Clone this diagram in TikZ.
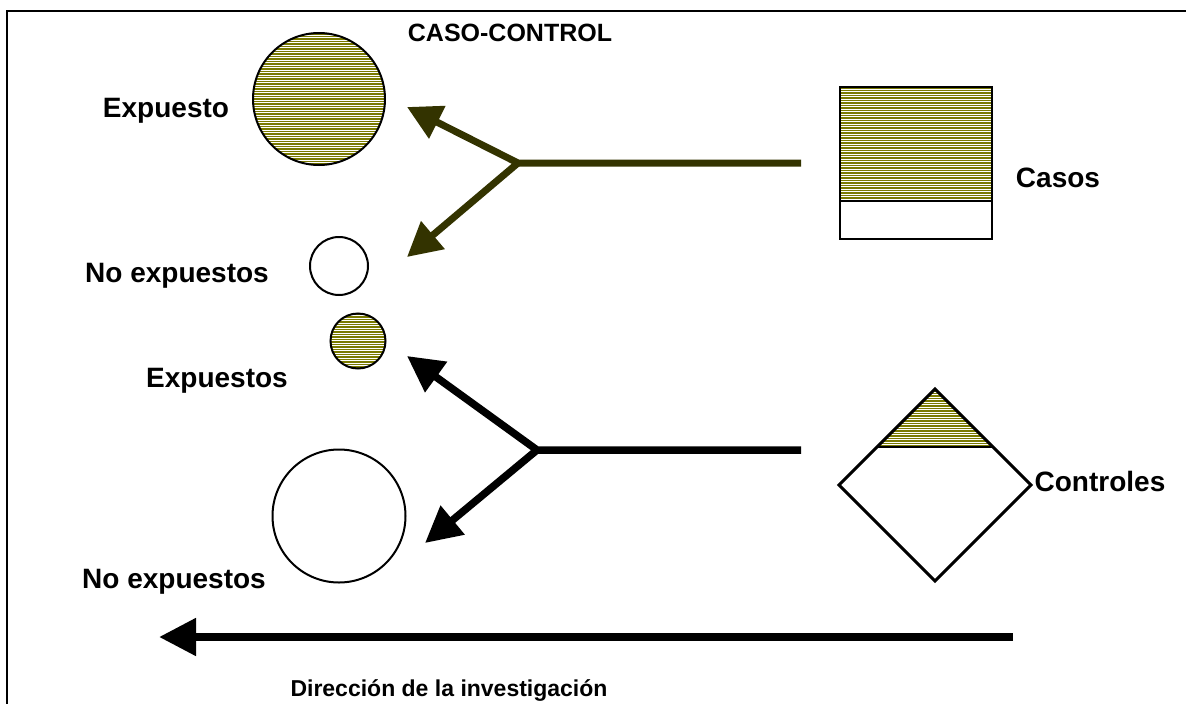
\documentclass[tikz,border=0pt]{standalone}
\usepackage{fontspec}
\setmainfont{Liberation Sans}
\usetikzlibrary{arrows.meta}
\definecolor{darkolive}{HTML}{333300}
\definecolor{stripe}{HTML}{7A7A00}
\tikzset{
  lbl/.style={font=\fontsize{28}{31}\selectfont\bfseries, inner sep=0pt},
  hatch/.style={path picture={\foreach \k in {0,...,80}{\draw[stripe,line width=1.2pt] ([yshift=-\k*2.5pt-1pt]path picture bounding box.north west) -- ([yshift=-\k*2.5pt-1pt]path picture bounding box.north east);}}},
  ball/.style={circle, draw=black, line width=2pt, inner sep=0pt},
  oarrow/.style={draw=darkolive, line width=7pt, -{Triangle[length=34pt,width=35pt]}},
  karrow/.style={draw=black, line width=7.5pt, -{Triangle[length=36pt,width=36pt]}},
}
\begin{document}
\begin{tikzpicture}[x=1pt,y=-1pt]
\useasboundingbox (0,0) rectangle (1186,704);
% frame
\coordinate (fbl) at (7,704);
\coordinate (ftl) at (7,11);
\coordinate (ftr) at (1186,11);
\draw[line width=2pt] (fbl) -- (ftl) -- (ftr);
% title
\node[font=\fontsize{25}{30}\selectfont\bfseries, inner sep=0pt] (title) at (510,33) {CASO-CONTROL};
% circles
\node[ball, hatch, minimum size=132pt] (c1) at (319,99) {};
\node[ball, minimum size=58pt] (c2) at (339,266) {};
\node[ball, hatch, minimum size=55pt] (c3) at (358,341) {};
\node[ball, minimum size=133pt] (c4) at (339,516) {};
% labels
\node[lbl] (l1) at (166,111) {Expuesto};
\node[lbl] (l2) at (177,276) {No expuestos};
\node[lbl] (l3) at (217,381) {Expuestos};
\node[lbl] (l4) at (174,582) {No expuestos};
\node[lbl] (l5) at (1058,178) {Casos};
\node[lbl] (l6) at (1100,481) {Controles};
\node[font=\fontsize{23}{27}\selectfont\bfseries, inner sep=0pt] (l7) at (449,690) {Dirección de la investigación};
% casos box
\coordinate (rtl) at (840,87);
\coordinate (rmr) at (992,201);
\coordinate (rml) at (840,201);
\coordinate (rbr) at (992,239);
\begin{scope}
\clip (rtl) rectangle (rmr);
\foreach \k in {0,...,47}{\draw[stripe,line width=1.2pt] (830,88+\k*2.5) -- (1000,88+\k*2.5);}
\end{scope}
\draw[line width=2pt] (rtl) rectangle (rbr);
\draw[line width=2pt] (rml) -- (rmr);
% controles diamond
\coordinate (dt) at (935,389);
\coordinate (dl) at (839,485);
\coordinate (db) at (935,581);
\coordinate (dr) at (1031,485);
\coordinate (hl) at (877,447);
\coordinate (hr) at (993,447);
\begin{scope}
\clip (dt) -- (hr) -- (hl) -- cycle;
\foreach \k in {0,...,25}{\draw[stripe,line width=1.2pt] (860,446-\k*2.5) -- (1010,446-\k*2.5);}
\end{scope}
\draw[line width=3pt, line join=miter] (dt) -- (dr) -- (db) -- (dl) -- cycle;
\draw[line width=2.5pt] (hl) -- (hr);
% upper arrows (olive)
\coordinate (s1) at (801,163);
\coordinate (j1) at (518,163);
\coordinate (t1) at (407,107);
\coordinate (t2) at (407,257);
\draw[oarrow, line join=round] (s1) -- (j1) -- (t1);
\draw[oarrow] (j1) -- (t2);
% lower arrows (black)
\coordinate (s2) at (801,450);
\coordinate (j2) at (537,450);
\coordinate (t3) at (407,356);
\coordinate (t4) at (425,543);
\draw[karrow, line join=round] (s2) -- (j2) -- (t3);
\draw[karrow] (j2) -- (t4);
% direction arrow
\coordinate (bs) at (1013,637);
\coordinate (bt) at (159,637);
\draw[karrow, line width=8pt, -{Triangle[length=37pt,width=36pt]}] (bs) -- (bt);
\end{tikzpicture}
\end{document}
